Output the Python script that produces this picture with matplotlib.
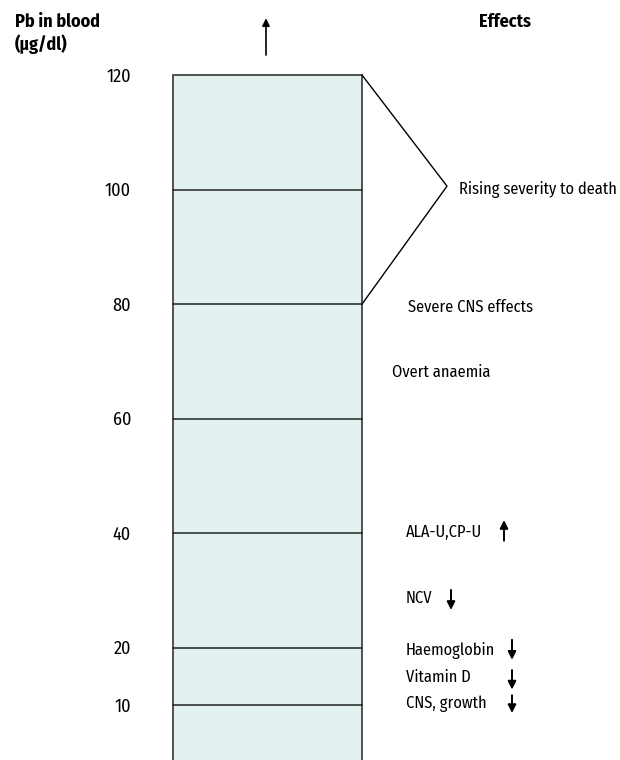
import matplotlib
matplotlib.use("Agg")
import matplotlib.pyplot as plt
from matplotlib.patches import Rectangle

plt.rcParams['font.family'] = ['Fira Sans Condensed', 'DejaVu Sans']
plt.rcParams['font.stretch'] = 'condensed'

# Pb in blood levels (ug/dl) with horizontal bands
levels = [10, 20, 40, 60, 80, 100]
tick_values = [10, 20, 40, 60, 80, 100, 120]
top_level = 120

# effects and the level (text baseline) they sit at
effects = ["Rising severity to death", "Severe CNS effects", "Overt anaemia",
           "ALA-U,CP-U", "NCV", "Haemoglobin", "Vitamin D", "CNS, growth"]
effect_levels = [99.2, 78.7, 67.2, 39.3, 27.8, 18.7, 14.1, 9.5]
effect_x = [459, 408, 392, 406, 406, 406, 406, 406]
# arrows next to the effect: tail level, tip level (None = no arrow)
arrow_from = [None, None, None, 38.7, 30.1, 21.4, 16.1, 11.7]
arrow_to = [None, None, None, 42.3, 26.6, 17.9, 12.7, 8.6]
arrow_x = [None, None, None, 504, 451, 512, 512, 512]

fig = plt.figure(figsize=(6.2, 7.6), dpi=100)
ax = fig.add_axes([0, 0, 1, 1])
ax.set_xlim(0, 620)
ax.set_ylim(0.4, 133.1)
ax.axis('off')

# column
ax.add_patch(Rectangle((173, 0), 189, top_level, facecolor='#e3f0f0',
                       edgecolor='#444444', lw=1.3))
for lv in levels:
    ax.plot([173, 362], [lv, lv], color='#222222', lw=1.1)

for v in tick_values:
    ax.text(131, v - 1.15, str(v), ha='right', va='baseline', fontsize=13)

# bracket
ax.plot([362, 447, 362], [120, 100.6, 80], color='black', lw=1)

# arrow on top
ax.annotate('', xy=(266, 130.4), xytext=(266, 123.0),
            arrowprops=dict(arrowstyle='-|>', color='black', lw=1.2,
                            mutation_scale=11))

for lab, lv, x, a0, a1, axx in zip(effects, effect_levels, effect_x,
                                   arrow_from, arrow_to, arrow_x):
    ax.text(x, lv, lab, ha='left', va='baseline', fontsize=11.8)
    if a0 is not None:
        ax.annotate('', xy=(axx, a1), xytext=(axx, a0),
                    arrowprops=dict(arrowstyle='-|>', color='black', lw=1.4,
                                    mutation_scale=12, shrinkA=0, shrinkB=0))

ax.text(15, 128.4, "Pb in blood", ha='left', va='baseline', fontsize=13, fontweight='bold')
ax.text(15, 124.3, "(\u03bcg/dl)", ha='left', va='baseline', fontsize=13, fontweight='bold')
ax.text(479, 128.4, "Effects", ha='left', va='baseline', fontsize=13, fontweight='bold')

fig.savefig('out.png', dpi=100)
